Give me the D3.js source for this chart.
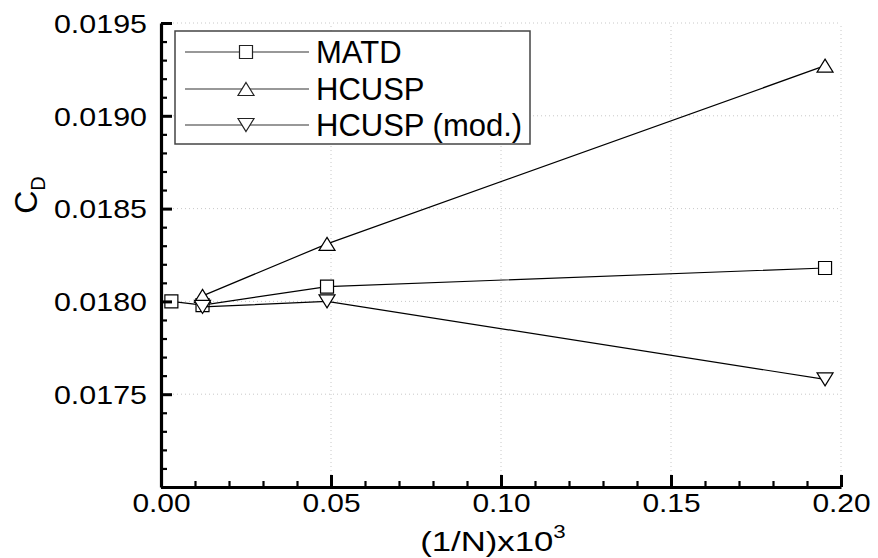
<!DOCTYPE html>
<html lang="en">
  <head>
    <meta charset="UTF-8" />
    <title>CD convergence</title>
    <style>
      body {
        margin: 0;
        background: #ffffff;
      }
      svg text {
        font-family: "Liberation Sans", Arial, sans-serif;
        fill: #000;
      }
      .grid line {
        stroke: #c8c8c8;
        stroke-width: 1;
        stroke-dasharray: 1, 3;
      }
    </style>
    <script src="https://d3js.org/d3.v7.min.js"></script>
  </head>
  <body>
    <svg id="chart"></svg>
    <script>
      // values
      const seriesNames = ["MATD", "HCUSP", "HCUSP (mod.)"];
      const matdX = [0.00305, 0.01221, 0.04883, 0.19531];
      const matdY = [0.0180, 0.01798, 0.01808, 0.01818];
      const hcuspX = [0.01221, 0.04883, 0.19531];
      const hcuspY = [0.01803, 0.01831, 0.01927];
      const hcuspModX = [0.01221, 0.04883, 0.19531];
      const hcuspModY = [0.01797, 0.0180, 0.01758];

      const xMajor = [0.0, 0.05, 0.1, 0.15, 0.2];
      const yMajor = [0.017, 0.0175, 0.018, 0.0185, 0.019, 0.0195];
      const yLabels = ["", "0.0175", "0.0180", "0.0185", "0.0190", "0.0195"];

      const width = 878;
      const height = 558;

      const svg = d3.select("#chart").attr("width", width).attr("height", height);

      const x = d3.scaleLinear().domain([0, 0.2]).range([161, 841]);
      const y = d3.scaleLinear().domain([0.017, 0.0195]).range([487, 23]);

      const xMinor = d3.range(0, 0.2001, 0.01).filter((v) => Math.abs(v / 0.05 - Math.round(v / 0.05)) > 1e-6);
      const yMinor = d3.range(0.017, 0.01951, 0.0001).filter((v) => Math.abs(v / 0.0005 - Math.round(v / 0.0005)) > 1e-6);

      // stretch text horizontally (the reference digits are wide)
      function stretch(sel, k) {
        sel.each(function () {
          const len = this.getComputedTextLength();
          if (len > 0) {
            d3.select(this).attr("textLength", len * k).attr("lengthAdjust", "spacingAndGlyphs");
          }
        });
      }

      // grid
      const grid = svg.append("g").attr("class", "grid");
      grid
        .selectAll(".gx")
        .data(xMajor.slice(1))
        .join("line")
        .attr("x1", (d) => x(d))
        .attr("x2", (d) => x(d))
        .attr("y1", y(0.017))
        .attr("y2", y(0.0195));
      grid
        .selectAll(".gy")
        .data(yMajor.slice(1))
        .join("line")
        .attr("x1", x(0))
        .attr("x2", x(0.2))
        .attr("y1", (d) => y(d))
        .attr("y2", (d) => y(d));

      // series
      const series = [
        { name: seriesNames[0], xs: matdX, ys: matdY, marker: "square" },
        { name: seriesNames[1], xs: hcuspX, ys: hcuspY, marker: "up" },
        { name: seriesNames[2], xs: hcuspModX, ys: hcuspModY, marker: "down" },
      ];

      const markerPath = {
        square: "M-6.5,-6.5H6.5V6.5H-6.5Z",
        up: "M0,-6.5L8,6.5L-8,6.5Z",
        down: "M0,6.5L8,-6.5L-8,-6.5Z",
      };

      const line = d3
        .line()
        .x((d) => x(d[0]))
        .y((d) => y(d[1]));

      series.forEach((s) => {
        const pts = s.xs.map((v, i) => [v, s.ys[i]]);
        svg
          .append("path")
          .datum(pts)
          .attr("d", line)
          .attr("fill", "none")
          .attr("stroke", "#000")
          .attr("stroke-width", 1.2);
        svg
          .append("g")
          .selectAll("path")
          .data(pts)
          .join("path")
          .attr("transform", (d) => `translate(${x(d[0])},${y(d[1])})`)
          .attr("d", markerPath[s.marker])
          .attr("fill", "#fff")
          .attr("stroke", "#000")
          .attr("stroke-width", 1.2);
      });

      // axes
      const yAxis = svg.append("g").attr("transform", `translate(${x(0)},0)`);
      yAxis.call(
        d3.axisLeft(y).tickValues(yMajor).tickSizeInner(-11).tickSizeOuter(0).tickPadding(14)
          .tickFormat((d, i) => yLabels[i])
      );
      yAxis.select(".domain").attr("stroke-width", 3.2);
      yAxis.selectAll(".tick line").attr("stroke-width", 3);
      yAxis.selectAll(".tick text").attr("font-size", 26).attr("dy", "0.36em").attr("font-family", null);
      stretch(yAxis.selectAll(".tick text"), 1.17);

      const yAxisMinor = svg.append("g").attr("transform", `translate(${x(0)},0)`);
      yAxisMinor.call(d3.axisLeft(y).tickValues(yMinor).tickSizeInner(-6).tickSizeOuter(0).tickFormat(""));
      yAxisMinor.select(".domain").remove();
      yAxisMinor.selectAll(".tick line").attr("stroke-width", 2.2);

      const xAxis = svg.append("g").attr("transform", `translate(0,${y(0.017)})`);
      xAxis.call(
        d3.axisBottom(x).tickValues(xMajor).tickSizeInner(-12).tickSizeOuter(0).tickPadding(7)
          .tickFormat(d3.format(".2f"))
      );
      xAxis.select(".domain").attr("stroke-width", 3.2);
      xAxis.selectAll(".tick line").attr("stroke-width", 3);
      xAxis.selectAll(".tick text").attr("font-size", 26).attr("font-family", null);
      stretch(xAxis.selectAll(".tick text"), 1.15);

      const xAxisMinor = svg.append("g").attr("transform", `translate(0,${y(0.017)})`);
      xAxisMinor.call(d3.axisBottom(x).tickValues(xMinor).tickSizeInner(-6).tickSizeOuter(0).tickFormat(""));
      xAxisMinor.select(".domain").remove();
      xAxisMinor.selectAll(".tick line").attr("stroke-width", 2.2);

      // axis titles
      const xTitle = svg
        .append("text")
        .attr("x", 493)
        .attr("y", 551)
        .attr("text-anchor", "middle")
        .attr("font-size", 28);
      xTitle.append("tspan").text("(1/N)x10");
      xTitle.append("tspan").attr("dy", -13).attr("font-size", 18).text("3");
      stretch(xTitle, 1.24);

      const yTitle = svg
        .append("text")
        .attr("transform", "translate(37,195) rotate(-90)")
        .attr("text-anchor", "middle")
        .attr("font-size", 32);
      yTitle.append("tspan").text("C");
      yTitle.append("tspan").attr("dy", 8).attr("font-size", 20).text("D");

      // legend
      const legend = svg.append("g");
      legend
        .append("rect")
        .attr("x", 175)
        .attr("y", 31)
        .attr("width", 355)
        .attr("height", 113)
        .attr("fill", "#fff")
        .attr("stroke", "#444")
        .attr("stroke-width", 1.5);

      const legendRows = [52, 89, 125];
      series.forEach((s, i) => {
        const ly = legendRows[i];
        legend
          .append("line")
          .attr("x1", 185)
          .attr("x2", 309)
          .attr("y1", ly)
          .attr("y2", ly)
          .attr("stroke", "#333")
          .attr("stroke-width", 1.2);
        legend
          .append("path")
          .attr("transform", `translate(246,${ly})`)
          .attr("d", markerPath[s.marker])
          .attr("fill", "#fff")
          .attr("stroke", "#222")
          .attr("stroke-width", 1.2);
        legend
          .append("text")
          .attr("x", 316)
          .attr("y", ly + 11.3)
          .attr("font-size", 31)
          .text(s.name);
      });
    </script>
  </body>
</html>
